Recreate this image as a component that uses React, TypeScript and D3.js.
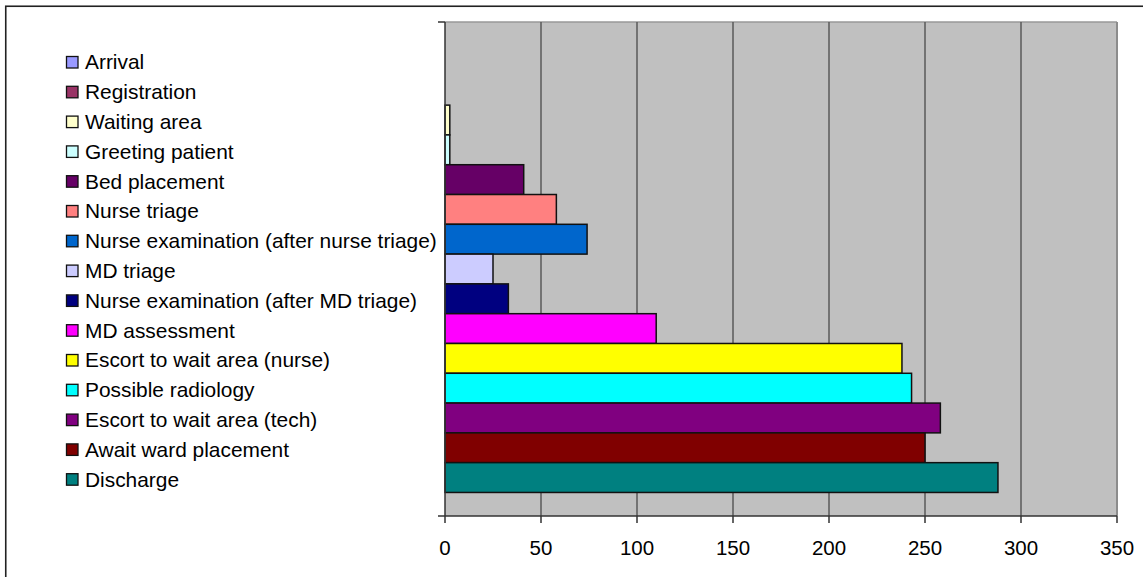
import React from 'react';
import * as d3 from 'd3';

// process steps, top to bottom
const categories = [
  'Arrival',
  'Registration',
  'Waiting area',
  'Greeting patient',
  'Bed placement',
  'Nurse triage',
  'Nurse examination (after nurse triage)',
  'MD triage',
  'Nurse examination (after MD triage)',
  'MD assessment',
  'Escort to wait area (nurse)',
  'Possible radiology',
  'Escort to wait area (tech)',
  'Await ward placement',
  'Discharge'
];

const values = [0, 0, 2.5, 2.5, 41, 58, 74, 25, 33, 110, 238, 243, 258, 250, 288];

const colors = [
  '#9999FF', '#993366', '#FFFFCC', '#CCFFFF', '#660066',
  '#FF8080', '#0066CC', '#CCCCFF', '#000080', '#FF00FF',
  '#FFFF00', '#00FFFF', '#800080', '#800000', '#008080'
];

const xTicks = [0, 50, 100, 150, 200, 250, 300, 350];

const W = 1143;
const H = 577;
const plot = { left: 445, right: 1117, top: 22, bottom: 516 };
const font = 'Arial, "Liberation Sans", sans-serif';

const App = () => {
  const x = d3.scaleLinear()
    .domain([0, 350])
    .range([plot.left, plot.right]);

  const y = d3.scaleBand()
    .domain(categories)
    .range([plot.top, plot.bottom])
    .paddingInner(0)
    .paddingOuter(0.79);

  // legend rows share the bars' step
  const legendY = d3.scalePoint()
    .domain(categories)
    .range([62, 62 + 29.8 * (categories.length - 1)]);

  return (
    <svg width={W} height={H} style={{ position: 'absolute', left: 0, top: 0, background: '#fff' }}>
      {/* outer chart border (only top/left visible) */}
      <rect x={5.75} y={6.25} width={W + 20} height={H + 20} fill="#fff" stroke="#222" strokeWidth={1.6} />

      {/* plot area */}
      <rect x={plot.left} y={plot.top} width={plot.right - plot.left} height={plot.bottom - plot.top} fill="#C0C0C0" />
      <line x1={plot.left} x2={plot.right} y1={plot.top} y2={plot.top} stroke="#999" strokeWidth={1.5} />
      <line x1={plot.right} x2={plot.right} y1={plot.top} y2={plot.bottom} stroke="#8c8c8c" strokeWidth={2} />

      {/* gridlines */}
      {xTicks.filter(t => t > 0 && t < 350).map(t => (
        <line key={t} x1={x(t)} x2={x(t)} y1={plot.top} y2={plot.bottom} stroke="#5a5a5a" strokeWidth={1.5} />
      ))}

      {/* bars */}
      {categories.map((c, i) => values[i] > 0 && (
        <rect
          key={c}
          x={x(0)}
          y={y(c)}
          width={x(values[i]) - x(0)}
          height={y.bandwidth()}
          fill={colors[i]}
          stroke="#111"
          strokeWidth={1.5}
        />
      ))}

      {/* axes */}
      <line x1={plot.left} x2={plot.left} y1={plot.top} y2={plot.bottom} stroke="#333" strokeWidth={1.5} />
      <line x1={plot.left - 7} x2={plot.left} y1={plot.top} y2={plot.top} stroke="#333" strokeWidth={1.5} />
      <line x1={plot.left - 7} x2={plot.right} y1={plot.bottom} y2={plot.bottom} stroke="#333" strokeWidth={1.5} />
      {xTicks.map(t => (
        <g key={t}>
          <line x1={x(t)} x2={x(t)} y1={plot.bottom} y2={plot.bottom + 7} stroke="#333" strokeWidth={1.5} />
          <text x={x(t)} y={548} dy="0.35em" textAnchor="middle" fontFamily={font} fontSize={20.5} fill="#000">
            {t}
          </text>
        </g>
      ))}

      {/* legend */}
      {categories.map((c, i) => (
        <g key={c} transform={`translate(0,${legendY(c)})`}>
          <rect x={66.5} y={-5.5} width={11.5} height={11.5} fill={colors[i]} stroke="#111" strokeWidth={1.3} />
          <text x={85} y={0} dy="0.35em" fontFamily={font} fontSize={20.9} fill="#000">{c}</text>
        </g>
      ))}
    </svg>
  );
};

export default App;
